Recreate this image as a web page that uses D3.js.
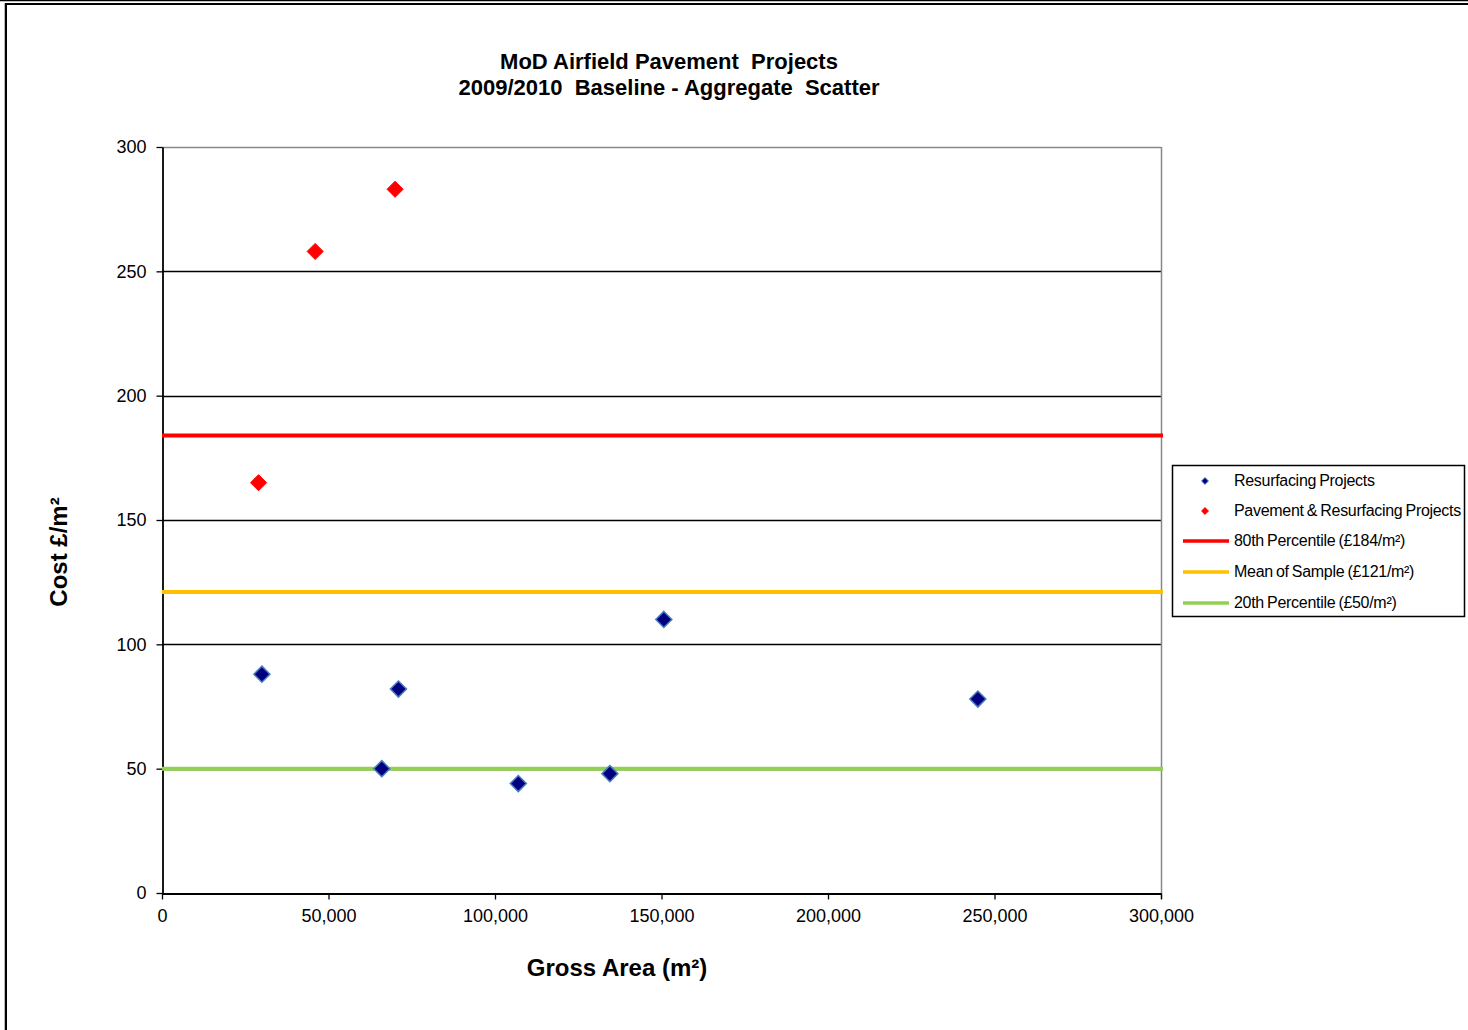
<!DOCTYPE html>
<html>
<head>
<meta charset="utf-8">
<script src="https://cdn.jsdelivr.net/npm/d3@7"></script>
<style>
  html, body { margin: 0; padding: 0; background: #fff; }
  svg { display: block; font-family: "Liberation Sans", Arial, sans-serif; }
  .title { white-space: pre; }
</style>
</head>
<body>
<svg id="chart" width="1468" height="1030"></svg>
<script>
// Projects: gross area (m²) and cost (£/m²)
const resurfacingArea = [30000, 71000, 66000, 107000, 134500, 150700, 245000];
const resurfacingCost = [88, 82, 50, 44, 48, 110, 78];
const pavementArea = [29000, 46000, 70000];
const pavementCost = [165, 258, 283];

// Reference levels (£/m²)
const refNames = ["80th Percentile (£184/m²)", "Mean of Sample (£121/m²)", "20th Percentile (£50/m²)"];
const refValues = [184, 121, 50];
const refColors = ["#ff0000", "#ffc000", "#92d050"];

const xTicks = [0, 50000, 100000, 150000, 200000, 250000, 300000];
const yTicks = [0, 50, 100, 150, 200, 250, 300];

const svg = d3.select("#chart");
const W = 1468, H = 1030;
const plot = { left: 162, right: 1161, top: 147, bottom: 893 };

// outer frame
svg.append("line").attr("x1", 0).attr("x2", W).attr("y1", 0.5).attr("y2", 0.5)
  .attr("stroke", "#000").attr("stroke-width", 1.5);
svg.append("line").attr("x1", 5).attr("x2", W).attr("y1", 4).attr("y2", 4)
  .attr("stroke", "#000").attr("stroke-width", 2);
svg.append("line").attr("x1", 6).attr("x2", 6).attr("y1", 3).attr("y2", H)
  .attr("stroke", "#000").attr("stroke-width", 2);
svg.append("line").attr("x1", 4.5).attr("x2", 4.5).attr("y1", 3).attr("y2", H)
  .attr("stroke", "#bbb").attr("stroke-width", 1);

const x = d3.scaleLinear().domain([0, 300000]).range([plot.left, plot.right]);
const y = d3.scaleLinear().domain([0, 300]).range([plot.bottom, plot.top]);

// gridlines
svg.append("g").selectAll("line").data(yTicks.filter(d => d > 0 && d < 300)).join("line")
  .attr("x1", plot.left).attr("x2", plot.right)
  .attr("y1", d => Math.round(y(d)) + 0.5).attr("y2", d => Math.round(y(d)) + 0.5)
  .attr("stroke", "#000").attr("stroke-width", 1.3);

// plot frame: grey top and right
svg.append("line").attr("x1", plot.left).attr("x2", plot.right)
  .attr("y1", plot.top + 0.5).attr("y2", plot.top + 0.5).attr("stroke", "#888").attr("stroke-width", 1.5);
svg.append("line").attr("x1", plot.right + 0.5).attr("x2", plot.right + 0.5)
  .attr("y1", plot.top).attr("y2", plot.bottom + 6).attr("stroke", "#888").attr("stroke-width", 1.5);

// axes
const fmt = d3.format(",");
const xAxis = svg.append("g").attr("transform", `translate(0,${plot.bottom + 0.5})`)
  .call(d3.axisBottom(x).tickValues(xTicks).tickFormat(d => fmt(d)).tickSize(6).tickSizeOuter(0));
const yAxis = svg.append("g").attr("transform", `translate(${plot.left + 0.5},0)`)
  .call(d3.axisLeft(y).tickValues(yTicks).tickSize(6).tickSizeOuter(0));
[xAxis, yAxis].forEach(g => {
  g.select(".domain").attr("stroke", "#000").attr("stroke-width", 1.8);
  g.selectAll(".tick line").attr("stroke", "#000").attr("stroke-width", 1.3);
  g.selectAll(".tick text").attr("font-family", "Liberation Sans, Arial, sans-serif")
    .attr("font-size", 18).attr("fill", "#000");
});
xAxis.selectAll(".tick text").attr("dy", "0.71em").attr("y", 16);
yAxis.selectAll(".tick text").attr("x", -16);

// reference lines
svg.append("g").selectAll("line").data(refValues).join("line")
  .attr("x1", plot.left).attr("x2", plot.right + 2)
  .attr("y1", d => y(d)).attr("y2", d => y(d))
  .attr("stroke", (d, i) => refColors[i]).attr("stroke-width", 4);

// diamond markers
const diamond = d3.symbol().type(d3.symbolDiamond2).size(165);
const blue = resurfacingArea.map((a, i) => ({ a, c: resurfacingCost[i] }));
const red = pavementArea.map((a, i) => ({ a, c: pavementCost[i] }));
svg.append("g").selectAll("path").data(blue).join("path")
  .attr("d", diamond).attr("transform", d => `translate(${x(d.a)},${y(d.c)})`)
  .attr("fill", "#000080").attr("stroke", "#4a7ebb").attr("stroke-width", 1.5);
svg.append("g").selectAll("path").data(red).join("path")
  .attr("d", diamond).attr("transform", d => `translate(${x(d.a)},${y(d.c)})`)
  .attr("fill", "#ff0000").attr("stroke", "#ff0000").attr("stroke-width", 1);

// titles
const title = svg.append("text").attr("class", "title").attr("x", 669).attr("text-anchor", "middle")
  .attr("font-weight", "bold").attr("font-size", 22).attr("fill", "#000");
title.append("tspan").attr("x", 669).attr("y", 69).text("MoD Airfield Pavement  Projects");
title.append("tspan").attr("x", 669).attr("y", 95).text("2009/2010  Baseline - Aggregate  Scatter");

svg.append("text").attr("x", 617).attr("y", 976).attr("text-anchor", "middle")
  .attr("font-weight", "bold").attr("font-size", 24).text("Gross Area (m²)");
svg.append("text").attr("transform", "translate(67,552) rotate(-90)").attr("text-anchor", "middle")
  .attr("font-weight", "bold").attr("font-size", 24).text("Cost £/m²");

// legend
const lg = svg.append("g");
lg.append("rect").attr("x", 1172.5).attr("y", 465.5).attr("width", 292).attr("height", 151)
  .attr("fill", "#fff").attr("stroke", "#000").attr("stroke-width", 1.5);
const legendItems = [
  { label: "Resurfacing Projects", type: "marker", fill: "#000080", stroke: "#4a7ebb" },
  { label: "Pavement & Resurfacing Projects", type: "marker", fill: "#ff0000", stroke: "#ff0000" },
  ...refNames.map((n, i) => ({ label: n, type: "line", color: refColors[i] }))
];
const legendY = [481, 511, 541, 572, 603];
legendItems.forEach((it, i) => {
  const cy = legendY[i];
  if (it.type === "marker") {
    lg.append("path").attr("d", d3.symbol().type(d3.symbolDiamond2).size(30))
      .attr("transform", `translate(1205,${cy})`).attr("fill", it.fill)
      .attr("stroke", it.stroke).attr("stroke-width", 1);
  } else {
    lg.append("line").attr("x1", 1183).attr("x2", 1229).attr("y1", cy).attr("y2", cy)
      .attr("stroke", it.color).attr("stroke-width", 3.5);
  }
  lg.append("text").attr("x", 1234).attr("y", cy + 5).attr("font-size", 16)
    .attr("letter-spacing", "-0.3").attr("word-spacing", -1).text(it.label);
});
</script>
</body>
</html>
